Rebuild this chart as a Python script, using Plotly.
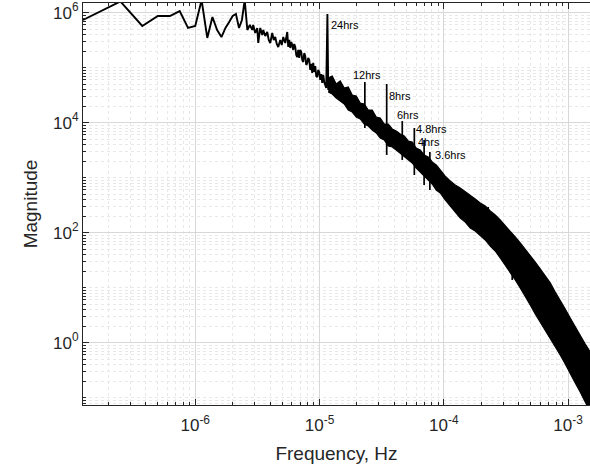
import math
import plotly.graph_objects as go

# ---------------- data ----------------
# low-frequency part of the spectrum, drawn as a single line
line_freq = [1.25e-7, 2.5e-7, 3.75e-7, 5.0e-7, 6.25e-7, 7.5e-7, 8.75e-7, 1.0e-6, 1.125e-6, 1.25e-6,
             1.375e-6, 1.5e-6, 1.625e-6, 1.75e-6, 1.875e-6, 2.0e-6, 2.125e-6, 2.25e-6, 2.375e-6, 2.5e-6,
             2.625e-6, 2.75e-6, 2.875e-6, 2.928e-6, 3.039e-6, 3.154e-6, 3.213e-6, 3.334e-6, 3.460e-6, 3.525e-6,
             3.658e-6, 3.796e-6, 3.903e-6, 4.013e-6, 4.164e-6, 4.282e-6, 4.403e-6, 4.528e-6, 4.655e-6, 4.830e-6,
             4.966e-6, 5.106e-6, 5.299e-6, 5.499e-6, 5.602e-6, 5.707e-6, 5.814e-6, 5.923e-6, 6.033e-6, 6.146e-6,
             6.261e-6, 6.378e-6, 6.497e-6, 6.619e-6, 6.743e-6, 6.869e-6, 6.998e-6, 7.129e-6, 7.262e-6, 7.398e-6,
             7.536e-6, 7.674e-6, 7.818e-6, 7.964e-6, 8.113e-6, 8.264e-6, 8.418e-6, 8.576e-6, 8.736e-6, 8.899e-6,
             9.066e-6, 9.235e-6, 9.408e-6, 9.584e-6, 9.763e-6, 9.945e-6, 1.013e-5, 1.032e-5, 1.051e-5, 1.071e-5,
             1.091e-5, 1.111e-5, 1.132e-5, 1.157e-5, 1.175e-5]
line_mag = [7.36e5, 1.6e6, 5.73e5, 8.70e5, 8.70e5, 1.07e6, 5.27e5, 5.73e5, 1.7e6, 3.47e5,
            8.35e5, 4.84e5, 3.60e5, 5.27e5, 6.77e5, 8.70e5, 9.47e5, 5.27e5, 7.36e5, 1.7e6,
            4.84e5, 5.98e5, 4.85e5, 5.98e5, 4.27e5, 5.27e5, 2.81e5, 5.27e5, 3.93e5, 4.85e5,
            3.77e5, 4.46e5, 3.19e5, 2.81e5, 4.27e5, 3.19e5, 3.61e5, 2.70e5, 2.38e5, 3.19e5,
            2.59e5, 3.61e5, 2.81e5, 4.46e5, 2.38e5, 3.19e5, 2.28e5, 2.93e5, 2.59e5, 2.10e5,
            2.70e5, 2.38e5, 1.70e5, 1.56e5, 2.10e5, 1.50e5, 2.10e5, 1.93e5, 1.38e5, 1.27e5,
            1.85e5, 1.63e5, 1.12e5, 1.22e5, 1.50e5, 1.38e5, 9.08e4, 1.17e5, 8.01e4, 1.22e5,
            8.35e4, 1.07e5, 7.06e4, 6.77e4, 9.08e4, 8.35e4, 5.98e4, 7.68e4, 5.27e4, 7.37e4,
            5.50e4, 4.85e4, 4.27e4, 9.47e5, 3.93e4]

# high-frequency part: dense noise band (upper / lower envelope)
band_freq = [1.175e-5, 1.265e-5, 1.362e-5, 1.467e-5, 1.580e-5, 1.702e-5, 1.833e-5, 1.974e-5, 2.126e-5, 2.289e-5,
             2.465e-5, 2.655e-5, 2.859e-5, 3.079e-5, 3.315e-5, 3.571e-5, 3.845e-5, 4.141e-5, 4.459e-5, 4.802e-5,
             5.171e-5, 5.569e-5, 5.998e-5, 6.458e-5, 6.955e-5, 7.490e-5, 8.066e-5, 8.686e-5, 9.355e-5, 1.026e-4,
             1.126e-4, 1.235e-4, 1.355e-4, 1.487e-4, 1.631e-4, 1.789e-4, 1.963e-4, 2.154e-4, 2.363e-4, 2.592e-4,
             2.843e-4, 3.119e-4, 3.422e-4, 3.754e-4, 4.118e-4, 4.518e-4, 4.957e-4, 5.438e-4, 5.964e-4, 6.545e-4,
             7.178e-4, 7.875e-4, 8.639e-4, 9.478e-4, 1.040e-3, 1.141e-3, 1.251e-3, 1.373e-3, 1.506e-3]
band_upper = [6.50e4, 7.06e4, 5.05e4, 5.73e4, 4.27e4, 4.46e4, 3.19e4, 3.06e4, 2.28e4, 2.19e4,
              1.70e4, 1.70e4, 1.27e4, 1.22e4, 9.47e3, 9.47e3, 7.68e3, 7.07e3, 6.23e3, 5.73e3,
              4.65e3, 4.46e3, 3.47e3, 3.19e3, 2.59e3, 2.38e3, 1.93e3, 1.70e3, 1.38e3, 1.07e3,
              871, 737, 650, 550, 465, 410, 347, 306, 248, 210,
              170, 132, 107, 83.5, 65.0, 50.5, 37.7, 29.3, 21.9, 16.3,
              12.2, 8.35, 5.98, 4.10, 2.81, 1.93, 1.32, 0.947, 0.678]
band_lower = [3.62e4, 3.32e4, 2.81e4, 2.48e4, 2.19e4, 1.70e4, 1.56e4, 1.27e4, 1.17e4, 9.47e3,
              8.71e3, 7.37e3, 6.50e3, 5.27e3, 4.85e3, 3.77e3, 3.62e3, 3.19e3, 2.81e3, 2.48e3,
              2.10e3, 1.85e3, 1.50e3, 1.27e3, 1.07e3, 871, 768, 598, 527, 393,
              306, 238, 185, 156, 122, 107, 87.1, 73.7, 57.3, 46.5,
              34.7, 25.9, 19.3, 13.8, 9.87, 7.07, 4.85, 3.32, 2.38, 1.70,
              1.22, 0.871, 0.598, 0.410, 0.270, 0.185, 0.127, 0.0835, 0.0550]

# tidal harmonic peaks sticking out of the band
peak_freq = [2.315e-5, 3.47e-5, 4.63e-5, 5.79e-5, 6.94e-5, 7.72e-5, 2.276e-4, 3.551e-4]
peak_top = [5.50e4, 5.05e4, 1.07e4, 8.01e3, 4.85e3, 2.93e3, 293, 90.8]
peak_base = [8.01e3, 2.59e3, 2.10e3, 1.12e3, 737, 598, 73.7, 13.8]

# peak labels
label_text = ["24hrs", "12hrs", "8hrs", "6hrs", "4.8hrs", "4hrs", "3.6hrs"]
label_freq = [1.197e-5, 1.80e-5, 3.51e-5, 4.07e-5, 5.78e-5, 6.00e-5, 8.22e-5]
label_mag = [5.97e5, 7.36e4, 3.06e4, 1.38e4, 7.68e3, 4.45e3, 2.59e3]

# axis ticks
x_tickvals = [1e-6, 1e-5, 1e-4, 1e-3]
x_ticktext = ["10<sup>-6</sup>", "10<sup>-5</sup>", "10<sup>-4</sup>", "10<sup>-3</sup>"]
y_tickvals = [1, 1e2, 1e4, 1e6]
y_ticktext = ["10<sup>0</sup>", "10<sup>2</sup>", "10<sup>4</sup>", "10<sup>6</sup>"]

# ---------------- figure ----------------
AX = "#262626"
FONT = "Liberation Sans, Arial, Helvetica, sans-serif"

x_minor = [m * 10.0 ** e for e in range(-8, -1) for m in range(1, 10)]
y_minor = [m * 10.0 ** e for e in range(-2, 8) for m in range(1, 10)]

fig = go.Figure()

# band (lower, then upper filled to it)
fig.add_trace(go.Scatter(x=band_freq, y=band_lower, mode="lines",
                         line=dict(color="black", width=1.2), hoverinfo="skip", showlegend=False))
fig.add_trace(go.Scatter(x=band_freq, y=band_upper, mode="lines", fill="tonexty",
                         fillcolor="black", line=dict(color="black", width=1.2),
                         hoverinfo="skip", showlegend=False))

# low-frequency line
fig.add_trace(go.Scatter(x=line_freq, y=line_mag, mode="lines",
                         line=dict(color="black", width=1.9), showlegend=False))

# harmonic spikes
sx, sy = [], []
for f, top, base in zip(peak_freq, peak_top, peak_base):
    sx += [f, f, None]
    sy += [base, top, None]
fig.add_trace(go.Scatter(x=sx, y=sy, mode="lines",
                         line=dict(color="black", width=1.7), showlegend=False))

# annotations on log axes take log10 coordinates
for t, f, m in zip(label_text, label_freq, label_mag):
    fig.add_annotation(x=math.log10(f), y=math.log10(m), xref="x", yref="y", text=t,
                       showarrow=False, xanchor="left", yanchor="middle",
                       font=dict(family=FONT, size=11, color="black"))

common_minor = dict(ticks="inside", ticklen=3, tickcolor=AX, showgrid=True,
                    gridcolor="#e8e8e8", griddash="dot", gridwidth=1)

fig.update_xaxes(type="log", range=[-6.903, -2.824],
                 tickmode="array", tickvals=x_tickvals, ticktext=x_ticktext,
                 ticks="inside", ticklen=6, tickcolor=AX, tickwidth=1,
                 ticklabelstandoff=5,
                 showline=True, linecolor=AX, linewidth=1, mirror="ticks",
                 showgrid=True, gridcolor="#d8d8d8", gridwidth=1,
                 minor=dict(tickmode="array", tickvals=x_minor, **common_minor),
                 tickfont=dict(family=FONT, size=17, color=AX),
                 title=dict(text="Frequency, Hz", font=dict(family=FONT, size=19, color=AX), standoff=12),
                 zeroline=False)
fig.update_yaxes(type="log", range=[-1.133, 6.176],
                 tickmode="array", tickvals=y_tickvals, ticktext=y_ticktext,
                 ticks="inside", ticklen=6, tickcolor=AX, tickwidth=1,
                 showline=True, linecolor=AX, linewidth=1, mirror=False,
                 showgrid=True, gridcolor="#d8d8d8", gridwidth=1,
                 minor=dict(tickmode="array", tickvals=y_minor, **common_minor),
                 tickfont=dict(family=FONT, size=17, color=AX),
                 title=dict(text="Magnitude", font=dict(family=FONT, size=19, color=AX), standoff=10),
                 zeroline=False)

fig.update_layout(width=590, height=466,
                  margin=dict(l=83, r=0, t=3, b=61),
                  paper_bgcolor="white", plot_bgcolor="white",
                  showlegend=False)

fig.write_html("out.html")
